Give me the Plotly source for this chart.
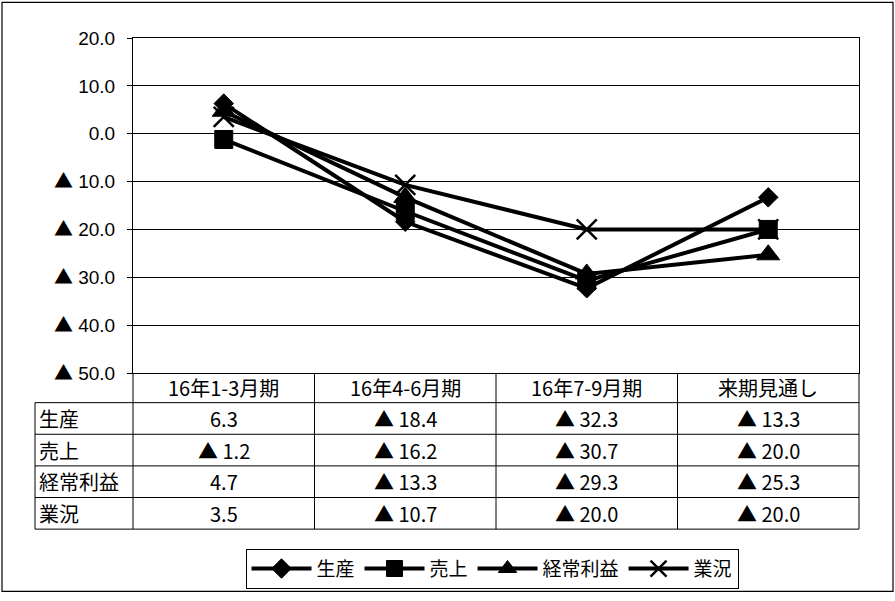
import plotly.graph_objects as go

# ---- data ----
periods = ["16年1-3月期", "16年4-6月期", "16年7-9月期", "来期見通し"]
series_names = ["生産", "売上", "経常利益", "業況"]
seisan = [6.3, -18.4, -32.3, -13.3]
uriage = [-1.2, -16.2, -30.7, -20.0]
keijo_rieki = [4.7, -13.3, -29.3, -25.3]
gyokyo = [3.5, -10.7, -20.0, -20.0]
y_ticks = [20, 10, 0, -10, -20, -30, -40, -50]

series_values = [seisan, uriage, keijo_rieki, gyokyo]

JP = "Noto Sans CJK JP"
NUM = "Liberation Sans, Noto Sans CJK JP"


def fmt(v):
    # negative values are written with a leading ▲
    return "▲ %.1f" % (-v) if v < 0 else "%.1f" % v


def fmt_tick(v):
    if v < 0:
        return "<span style='font-family:%s'>▲</span> %.1f" % (JP, -v)
    return "%.1f" % v


# ---- geometry (pixels) ----
W, H = 895, 601
PL, PR, PT, PB = 133, 859, 38, 377
TABLE_LEFT = 35
ROW_EDGES = [377, 407, 439, 471, 503, 535]


def px_x(px):
    return (px - PL) / (PR - PL)


def px_y(py):
    return (PB - py) / (PB - PT)


styles = [
    dict(symbol="diamond", size=15),
    dict(symbol="square", size=18),
    dict(symbol="triangle-up", size=20),
    dict(symbol="x-thin", size=20),
]

fig = go.Figure()
for name, vals, st in zip(series_names, series_values, styles):
    marker = dict(symbol=st["symbol"], size=st["size"], color="black",
                  line=dict(color="black", width=2.5 if st["symbol"] == "x-thin" else 1))
    fig.add_trace(go.Scatter(
        x=periods, y=vals, name=name, mode="lines+markers",
        line=dict(color="black", width=4),
        marker=marker,
    ))

fig.update_xaxes(
    type="category", range=[-0.5, 3.5], showticklabels=False, ticks="",
    showgrid=False, showline=True, linecolor="black", linewidth=1, mirror=True,
    zeroline=False,
)
fig.update_yaxes(
    range=[-50, 20], tickvals=y_ticks, ticktext=[fmt_tick(v) for v in y_ticks],
    ticks="outside", ticklen=5, tickcolor="black", ticklabelstandoff=8,
    showgrid=True, gridcolor="black", gridwidth=1,
    zeroline=True, zerolinecolor="black", zerolinewidth=1,
    showline=True, linecolor="black", linewidth=1, mirror=True,
    tickfont=dict(family=NUM, size=19, color="black"),
)

shapes = []
line_style = dict(color="black", width=1)
# horizontal rules of the data table
for py in ROW_EDGES[1:]:
    shapes.append(dict(type="line", xref="paper", yref="paper",
                       x0=px_x(TABLE_LEFT), x1=1, y0=px_y(py), y1=px_y(py), line=line_style))
# vertical rules: label column edge, then category boundaries
shapes.append(dict(type="line", xref="paper", yref="paper",
                   x0=px_x(TABLE_LEFT), x1=px_x(TABLE_LEFT),
                   y0=px_y(ROW_EDGES[1]), y1=px_y(ROW_EDGES[-1]), line=line_style))
n = len(periods)
for k in range(n + 1):
    shapes.append(dict(type="line", xref="paper", yref="paper",
                       x0=k / n, x1=k / n,
                       y0=px_y(ROW_EDGES[0]), y1=px_y(ROW_EDGES[-1]), line=line_style))
# outer frame around the whole chart
shapes.append(dict(type="rect", xref="paper", yref="paper",
                   x0=px_x(2), x1=px_x(893), y0=px_y(2), y1=px_y(598),
                   line=dict(color="black", width=1.2), fillcolor="rgba(0,0,0,0)"))

annotations = []
cell_font = dict(family=JP, size=20, color="black")
# header row with period names
hy = px_y((ROW_EDGES[0] + ROW_EDGES[1]) / 2)
for p in periods:
    annotations.append(dict(x=p, xref="x", y=hy, yref="paper", text=p,
                            showarrow=False, font=cell_font,
                            xanchor="center", yanchor="middle"))
# one row per series
for r, (name, vals) in enumerate(zip(series_names, series_values)):
    cy = px_y((ROW_EDGES[r + 1] + ROW_EDGES[r + 2]) / 2)
    annotations.append(dict(x=px_x(TABLE_LEFT + 2), xref="paper", y=cy, yref="paper",
                            text=name, showarrow=False, font=cell_font,
                            xanchor="left", yanchor="middle"))
    for p, v in zip(periods, vals):
        annotations.append(dict(x=p, xref="x", y=cy, yref="paper", text=fmt(v),
                                showarrow=False, font=cell_font,
                                xanchor="center", yanchor="middle"))

fig.update_layout(
    width=W, height=H,
    margin=dict(l=PL, r=W - PR, t=PT, b=H - PB),
    paper_bgcolor="white", plot_bgcolor="white",
    shapes=shapes, annotations=annotations,
    showlegend=True,
    legend=dict(
        orientation="h", x=px_x(492), xanchor="center", y=px_y(575), yanchor="middle",
        bordercolor="black", borderwidth=1, bgcolor="white",
        font=dict(family=JP, size=19, color="black"),
        itemwidth=60, tracegroupgap=0,
    ),
)

fig.write_html("out.html")
